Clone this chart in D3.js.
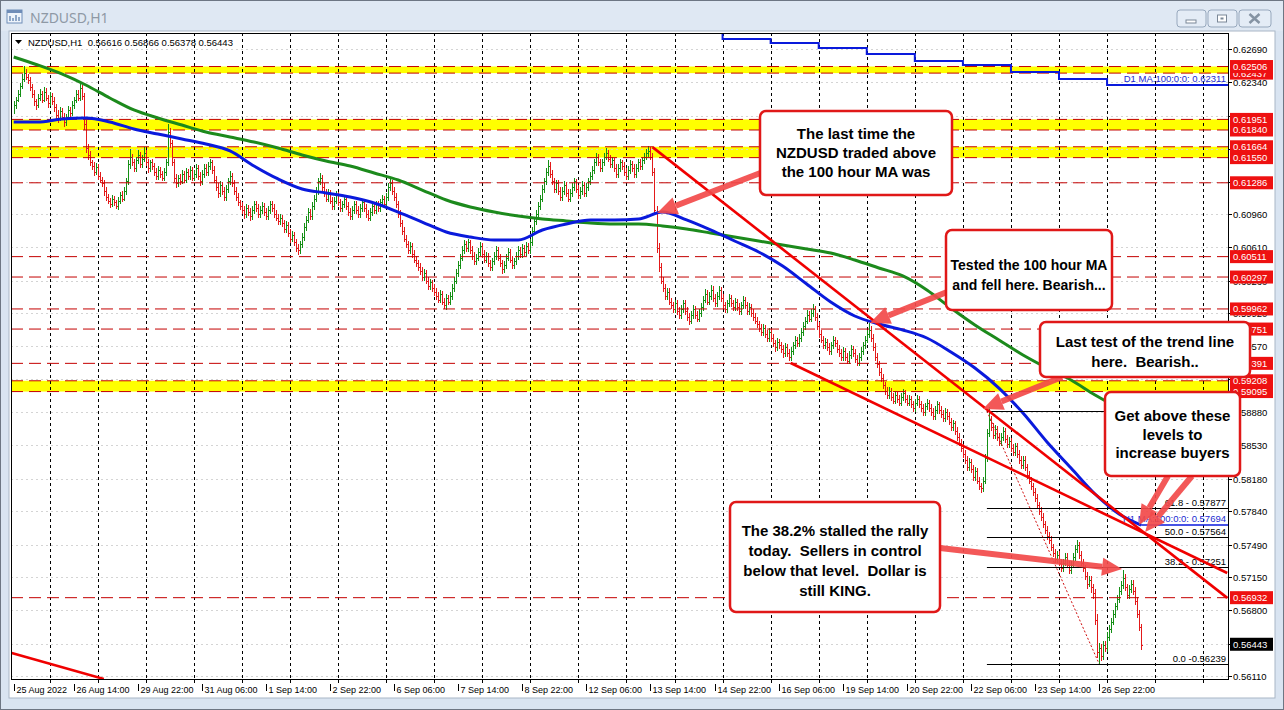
<!DOCTYPE html>
<html><head><meta charset="utf-8">
<script src="https://cdn.jsdelivr.net/npm/d3@7"></script>
<style>
html,body{margin:0;padding:0;background:#d9e4f1;overflow:hidden}
svg{display:block}
</style></head><body>
<svg id="chart" width="1284" height="710"></svg>
<script>
// ---- NZDUSD H1 hourly bars, prices in pips (price * 10000) ----
const firstOpen = 6206;
const closes = [
6210,6216,6222,6230,6238,6244,6240,6236,6229,6222,6214,6210,6218,6222,6216,6224,6218,6212,6220,6214,6208,6200,6196,6204,
6198,6192,6198,6205,6202,6210,6216,6222,6218,6228,6220,6190,6165,6158,6150,6146,6140,6145,6136,6132,6128,6120,6114,6110,
6106,6112,6108,6104,6110,6116,6112,6120,6130,6148,6156,6150,6144,6152,6158,6148,6154,6160,6150,6144,6150,6146,6140,6136,
6142,6138,6134,6140,6150,6182,6170,6150,6134,6128,6134,6130,6138,6132,6140,6136,6142,6134,6138,6144,6136,6130,6138,6144,
6140,6146,6150,6142,6132,6124,6118,6126,6120,6114,6122,6130,6136,6128,6120,6114,6108,6104,6100,6096,6102,6098,6094,6100,
6106,6102,6096,6100,6104,6098,6094,6100,6106,6102,6096,6092,6088,6092,6086,6080,6084,6076,6070,6074,6066,6060,6058,6064,
6072,6082,6090,6098,6094,6104,6112,6120,6130,6134,6124,6118,6112,6118,6110,6104,6110,6116,6108,6102,6106,6112,6104,6098,
6094,6100,6106,6100,6096,6102,6108,6102,6096,6092,6098,6104,6100,6106,6102,6108,6112,6106,6114,6124,6128,6120,6114,6106,
6096,6086,6078,6070,6064,6058,6062,6054,6048,6044,6040,6036,6030,6034,6026,6020,6024,6018,6014,6010,6006,6012,6004,6000,
6008,6004,6010,6018,6026,6034,6042,6050,6058,6064,6060,6066,6058,6052,6046,6050,6056,6062,6054,6048,6052,6044,6040,6046,
6052,6058,6050,6044,6038,6042,6050,6056,6048,6042,6046,6052,6058,6054,6060,6056,6062,6058,6066,6078,6088,6096,6104,6112,
6122,6130,6140,6146,6138,6130,6122,6128,6120,6114,6120,6126,6118,6112,6118,6124,6130,6122,6116,6120,6126,6118,6124,6130,
6136,6142,6150,6156,6150,6144,6150,6156,6160,6154,6148,6152,6144,6138,6144,6150,6146,6140,6136,6142,6148,6144,6138,6144,
6150,6146,6152,6156,6160,6162,6156,6140,6100,6060,6040,6026,6018,6010,6014,6004,6000,5996,6002,5994,5990,5996,6002,5994,
5988,5984,5990,5996,5990,5986,5992,5998,6006,6012,6004,6010,6016,6008,6002,6010,6016,6008,6000,5996,6002,6008,6002,5998,
6004,5998,5994,6000,6006,6000,5994,5998,5992,5988,5984,5980,5976,5972,5976,5970,5966,5972,5966,5960,5956,5962,5958,5954,
5950,5956,5950,5946,5952,5958,5964,5960,5966,5972,5978,5984,5990,5986,5992,5996,5988,5978,5970,5964,5958,5962,5956,5952,
5958,5964,5960,5954,5950,5946,5952,5946,5942,5948,5954,5950,5944,5940,5946,5952,5958,5964,5970,5974,5966,5956,5946,5938,
5930,5924,5916,5910,5906,5910,5904,5900,5906,5902,5898,5904,5908,5902,5898,5902,5896,5892,5898,5902,5896,5892,5888,5894,
5898,5892,5888,5884,5890,5896,5890,5886,5882,5888,5884,5878,5872,5876,5868,5862,5856,5850,5844,5838,5830,5836,5828,5820,
5826,5816,5810,5808,5816,5840,5866,5880,5872,5864,5870,5862,5856,5862,5868,5860,5854,5858,5850,5846,5852,5844,5838,5832,
5838,5830,5822,5816,5810,5804,5798,5790,5784,5778,5770,5764,5758,5754,5746,5740,5734,5738,5730,5724,5730,5736,5728,5722,
5728,5736,5744,5748,5738,5730,5724,5716,5708,5712,5704,5698,5670,5636,5640,5632,5644,5640,5652,5660,5668,5676,5684,5692,
5700,5706,5714,5704,5696,5702,5708,5700,5690,5676,5662,5644
];
const highs = [
6214,6219,6226,6233,6243,6251,6248,6243,6240,6232,6226,6217,6222,6227,6225,6229,6228,6221,6224,6223,6219,6211,6205,6208,
6207,6202,6201,6209,6208,6214,6219,6226,6226,6234,6231,6223,6195,6169,6162,6153,6150,6149,6148,6140,6135,6132,6124,6117,
6113,6116,6115,6111,6114,6119,6120,6124,6134,6152,6164,6159,6154,6156,6163,6161,6158,6166,6163,6154,6153,6154,6149,6144,
6146,6145,6141,6144,6154,6190,6186,6174,6154,6138,6137,6138,6142,6141,6144,6143,6146,6145,6142,6148,6147,6140,6142,6148,
6148,6150,6154,6153,6146,6136,6128,6130,6129,6124,6126,6134,6141,6139,6132,6124,6118,6111,6108,6104,6106,6105,6102,6104,
6110,6109,6106,6104,6108,6107,6102,6104,6110,6109,6106,6100,6096,6096,6095,6090,6088,6087,6080,6078,6077,6070,6064,6068,
6076,6086,6094,6102,6101,6108,6116,6124,6134,6139,6137,6128,6122,6122,6121,6114,6114,6120,6119,6112,6110,6116,6115,6108,
6102,6104,6110,6109,6104,6106,6112,6111,6106,6100,6102,6108,6107,6110,6109,6112,6116,6115,6118,6128,6133,6131,6124,6118,
6110,6100,6090,6082,6074,6068,6066,6065,6058,6052,6048,6044,6040,6038,6037,6030,6028,6027,6022,6018,6014,6016,6015,6008,
6012,6011,6014,6022,6030,6038,6046,6054,6062,6069,6068,6070,6069,6062,6056,6054,6060,6066,6065,6058,6056,6055,6048,6050,
6056,6062,6061,6054,6048,6046,6054,6060,6059,6052,6050,6056,6062,6061,6064,6063,6066,6065,6070,6082,6092,6100,6108,6116,
6126,6134,6144,6152,6150,6142,6134,6132,6131,6124,6124,6130,6129,6122,6122,6128,6134,6133,6126,6124,6130,6129,6128,6134,
6140,6146,6154,6160,6159,6154,6154,6160,6165,6163,6158,6156,6155,6148,6148,6154,6153,6150,6144,6146,6152,6151,6148,6148,
6154,6154,6156,6160,6164,6167,6166,6160,6144,6104,6065,6044,6030,6022,6018,6018,6008,6004,6006,6006,5998,6000,6006,6006,
5998,5992,5994,6000,5999,5994,5996,6002,6010,6017,6016,6014,6021,6020,6012,6014,6020,6019,6012,6004,6006,6012,6011,6006,
6008,6007,6002,6004,6010,6009,6004,6002,6001,5996,5992,5988,5984,5980,5980,5979,5974,5976,5975,5970,5964,5966,5965,5962,
5958,5960,5959,5954,5956,5962,5968,5967,5970,5976,5982,5988,5995,5994,5996,6001,5999,5992,5982,5974,5968,5966,5965,5960,
5962,5968,5967,5964,5958,5954,5956,5955,5950,5952,5958,5957,5954,5948,5950,5956,5962,5968,5974,5981,5978,5970,5960,5950,
5942,5934,5928,5920,5914,5914,5913,5908,5910,5909,5906,5908,5912,5911,5906,5906,5905,5900,5902,5906,5905,5900,5896,5898,
5902,5901,5896,5892,5894,5900,5899,5894,5890,5892,5891,5888,5882,5880,5879,5872,5866,5860,5854,5848,5842,5840,5839,5832,
5830,5829,5820,5814,5820,5844,5870,5893,5884,5876,5874,5873,5866,5866,5872,5871,5864,5862,5861,5854,5856,5855,5848,5842,
5842,5842,5834,5826,5820,5814,5808,5802,5794,5788,5782,5774,5768,5762,5758,5750,5744,5742,5742,5734,5734,5740,5740,5732,
5732,5740,5749,5754,5752,5742,5734,5728,5720,5716,5716,5708,5702,5676,5646,5645,5648,5648,5657,5664,5672,5680,5688,5696,
5704,5711,5722,5718,5708,5706,5712,5712,5704,5694,5680,5666
];
const lows = [
6201,6206,6213,6219,6227,6234,6236,6232,6225,6218,6209,6205,6207,6214,6212,6213,6214,6207,6209,6210,6203,6196,6191,6193,
6194,6187,6188,6194,6198,6199,6206,6212,6214,6214,6216,6184,6160,6153,6146,6142,6136,6137,6131,6128,6124,6115,6110,6106,
6102,6103,6104,6101,6100,6106,6108,6109,6116,6126,6143,6146,6140,6140,6148,6144,6144,6150,6146,6139,6140,6142,6136,6132,
6132,6134,6130,6130,6136,6146,6165,6146,6129,6123,6124,6126,6127,6128,6128,6132,6132,6130,6130,6134,6132,6125,6126,6134,
6136,6136,6142,6138,6128,6120,6113,6114,6116,6110,6110,6118,6126,6124,6116,6110,6104,6100,6096,6091,6092,6094,6089,6090,
6096,6098,6092,6092,6096,6094,6090,6090,6096,6098,6092,6088,6084,6084,6082,6076,6076,6072,6065,6066,6062,6056,6053,6054,
6060,6068,6078,6086,6090,6090,6100,6108,6116,6126,6120,6114,6108,6108,6106,6100,6100,6106,6104,6098,6098,6102,6100,6094,
6090,6090,6096,6096,6092,6092,6098,6098,6092,6088,6088,6094,6096,6096,6098,6098,6104,6102,6102,6110,6120,6116,6110,6102,
6092,6082,6074,6066,6060,6054,6054,6050,6044,6040,6036,6032,6026,6026,6022,6016,6016,6014,6010,6006,6002,6002,6000,5996,
5995,6000,6000,6006,6014,6022,6030,6038,6046,6054,6056,6056,6054,6048,6042,6042,6046,6052,6050,6044,6044,6040,6036,6036,
6042,6048,6046,6040,6033,6034,6038,6046,6044,6038,6038,6042,6048,6050,6050,6052,6052,6054,6054,6062,6074,6084,6092,6100,
6108,6118,6126,6136,6134,6126,6118,6118,6116,6110,6110,6116,6114,6108,6108,6114,6120,6118,6112,6112,6116,6114,6114,6120,
6126,6132,6138,6146,6146,6140,6140,6146,6152,6150,6144,6144,6140,6134,6134,6140,6142,6136,6132,6132,6138,6140,6134,6134,
6140,6142,6142,6148,6152,6156,6152,6136,6096,6055,6035,6022,6014,6006,6006,6000,5996,5992,5992,5990,5986,5986,5992,5990,
5984,5979,5980,5986,5986,5982,5982,5988,5994,6002,6000,6000,6006,6004,5998,5998,6006,6004,5996,5992,5992,5998,5998,5994,
5994,5994,5990,5990,5996,5996,5990,5990,5988,5984,5980,5976,5972,5968,5968,5966,5962,5962,5962,5956,5951,5952,5954,5950,
5945,5946,5946,5942,5942,5948,5954,5956,5956,5962,5968,5974,5980,5982,5982,5988,5984,5974,5966,5960,5954,5954,5952,5948,
5948,5954,5956,5950,5946,5942,5942,5942,5938,5938,5944,5946,5940,5936,5936,5942,5948,5954,5960,5966,5962,5952,5942,5934,
5926,5920,5912,5906,5902,5902,5900,5896,5896,5898,5894,5894,5900,5898,5894,5894,5892,5888,5888,5894,5892,5888,5884,5884,
5890,5888,5884,5880,5880,5886,5886,5882,5878,5878,5880,5874,5868,5868,5864,5858,5852,5846,5840,5834,5826,5826,5824,5816,
5816,5812,5806,5803,5804,5812,5836,5862,5868,5860,5860,5858,5852,5852,5858,5856,5850,5850,5846,5842,5842,5840,5834,5828,
5828,5826,5818,5812,5806,5800,5794,5786,5780,5774,5766,5760,5754,5750,5742,5736,5730,5730,5726,5720,5720,5726,5724,5718,
5718,5724,5732,5740,5734,5726,5720,5712,5702,5704,5698,5692,5664,5630,5624,5627,5628,5636,5636,5648,5656,5664,5672,5680,
5688,5696,5702,5700,5692,5692,5698,5696,5686,5672,5658,5638
];

// Moving averages, sampled every 12 bars (last point = last bar)
const maBars = [0,12,24,36,48,60,72,84,96,108,120,132,144,156,168,180,192,204,216,228,240,252,264,276,288,300,312,324,336,348,360,372,384,396,408,420,432,444,456,468,480,492,504,516,528,540,552,563];
const ma100 = [0.61924,0.61924,0.61955,0.61966,0.61924,0.61850,0.61798,0.61746,0.61693,0.61620,0.61462,0.61326,0.61221,0.61179,0.61137,0.61074,0.60979,0.60874,0.60770,0.60717,0.60686,0.60686,0.60791,0.60854,0.60896,0.60896,0.60906,0.60979,0.60896,0.60791,0.60675,0.60560,0.60413,0.60224,0.60035,0.59888,0.59804,0.59741,0.59657,0.59510,0.59342,0.59132,0.58870,0.58566,0.58293,0.58020,0.57810,0.57694];
const ma200 = [0.62606,0.62522,0.62428,0.62312,0.62176,0.62050,0.61966,0.61892,0.61819,0.61767,0.61714,0.61651,0.61578,0.61515,0.61462,0.61389,0.61315,0.61210,0.61105,0.61032,0.60979,0.60937,0.60906,0.60885,0.60864,0.60854,0.60854,0.60833,0.60801,0.60759,0.60717,0.60675,0.60633,0.60591,0.60549,0.60476,0.60392,0.60308,0.60161,0.59972,0.59794,0.59636,0.59479,0.59342,0.59216,0.59059,0.58923,0.58839];

// Daily 100 MA, one value per trading day (day starts at these bars)
const d1Bars = [330,354,378,402,426,450,474,498,522,546];
const d1Ma   = [0.62880,0.62795,0.62753,0.62700,0.62638,0.62564,0.62522,0.62449,0.62375,0.62311];

// Horizontal levels and zones
const levelPrices = [0.62506,0.62437,0.61951,0.61840,0.61664,0.61550,0.61286,0.60511,0.60297,0.59962,0.59751,0.59391,0.59208,0.59095,0.56932];
const zoneHi = [0.62506,0.61951,0.61664,0.59208];
const zoneLo = [0.62437,0.61840,0.61550,0.59095];

// Price axis tick labels (those not covered by level tags)
const priceTicks = [0.62690,0.62340,0.61990,0.60960,0.60610,0.60260,0.59920,0.59570,0.58880,0.58530,0.58180,0.57840,0.57490,0.57150,0.56800,0.56110];
const priceTickText = ["0.62690","0.62340","0.61990","0.60960","0.60610","0.60260","0.59920","0.59570","0.58880","0.58530","0.58180","0.57840","0.57490","0.57150","0.56800","0.56110"];
const gridPrices = [0.62690,0.62340,0.61990,0.61640,0.61290,0.60960,0.60610,0.60260,0.59920,0.59570,0.59230,0.58880,0.58530,0.58180,0.57840,0.57490,0.57150,0.56800,0.56450,0.56110];

// Time axis labels: first bar, then one every 32 bars starting at bar 30
const firstDateLabel = "25 Aug 2022";
const dateLabels = ["26 Aug 14:00","29 Aug 22:00","31 Aug 06:00","1 Sep 14:00","2 Sep 22:00","6 Sep 06:00","7 Sep 14:00","8 Sep 22:00","12 Sep 06:00","13 Sep 14:00","14 Sep 22:00","16 Sep 06:00","19 Sep 14:00","20 Sep 22:00","22 Sep 06:00","23 Sep 14:00","26 Sep 22:00"];

// Fibonacci retracement from swing high to swing low
const fibHigh = {bar: 486, price: 0.58889};
const fibLow  = {bar: 542, price: 0.56239};
const fibRatios = [1.0, 0.618, 0.5, 0.382, 0.0];
const fibNames  = ["100.0 - 0.58889","61.8 - 0.57877","50.0 - 0.57564","38.2 - 0.57251","0.0 -0.56239"];

// Trend lines (bar, price) pairs
const trendLines = [
  [[319,0.61660],[606,0.56930]],
  [[388,0.59395],[606,0.57191]],
  [[-1,0.56352],[45,0.56079]]
];

const lastPrice = 0.56443;

// ---------------- drawing ----------------
const svg = d3.select("#chart");
const P = {left: 11, top: 33, right: 1228, bottom: 679};
const barStep = 2.0025, x0 = 13.7;
const nBars = Math.min(closes.length, highs.length, lows.length);
const x = d3.scaleLinear().domain([0, 1]).range([x0, x0 + barStep]);
const y = d3.scaleLinear().domain([0.56110, 0.62690]).range([676, 49]);
const pip = v => v / 10000;
const FONT = "'Liberation Sans', Arial, sans-serif";

// window frame
svg.append("rect").attr("width",1284).attr("height",710).attr("fill","#d9e4f1");
svg.append("rect").attr("x",0).attr("y",0).attr("width",1284).attr("height",31).attr("fill","#dfe8f3");
svg.append("rect").attr("x",0.5).attr("y",0.5).attr("width",1283).attr("height",709).attr("fill","none").attr("stroke","#6d7683");
// title icon + text
const ic = svg.append("g").attr("transform","translate(7,10)");
ic.append("rect").attr("width",15).attr("height",13).attr("fill","#eef4fb").attr("stroke","#6f8db8");
ic.append("rect").attr("width",15).attr("height",3).attr("fill","#6f8db8");
ic.append("path").attr("d","M3,11 L3,6 M6,11 L6,8 M9,11 L9,5 M12,11 L12,7").attr("stroke","#6f8db8").attr("stroke-width",1.5);
svg.append("text").attr("x",30).attr("y",23).text("NZDUSD,H1")
  .attr("font-family","'Noto Sans', 'Open Sans', sans-serif").attr("font-size",14).attr("fill","#8e99a5");
// window buttons
const btns = [[1177,30,"min"],[1208,30,"max"],[1239,33,"close"]];
btns.forEach(([bx,bw,kind]) => {
  const g = svg.append("g").attr("transform",`translate(${bx},10)`);
  g.append("rect").attr("width",bw-1).attr("height",17).attr("rx",3).attr("fill","#e4ecf6").attr("stroke","#97a8bd");
  if (kind==="min") g.append("rect").attr("x",bw/2-6).attr("y",10).attr("width",10).attr("height",3).attr("fill","#fff").attr("stroke","#7a8797");
  if (kind==="max") { g.append("rect").attr("x",bw/2-5.5).attr("y",5).attr("width",9).attr("height",7).attr("fill","#fff").attr("stroke","#7a8797");
                      g.append("rect").attr("x",bw/2-2.5).attr("y",7.5).attr("width",3).attr("height",2).attr("fill","#7a8797"); }
  if (kind==="close") g.append("path").attr("d",`M${bw/2-6},4 L${bw/2+4},13 M${bw/2+4},4 L${bw/2-6},13`).attr("stroke","#8593a3").attr("stroke-width",2.5);
});

// chart panel
svg.append("rect").attr("x",9).attr("y",31).attr("width",1266).attr("height",667).attr("fill","#fff").attr("stroke","#a9b6c6");

const clipId = "plotclip";
svg.append("clipPath").attr("id",clipId).append("rect")
  .attr("x",P.left).attr("y",P.top).attr("width",P.right-P.left).attr("height",P.bottom-P.top);
const plot = svg.append("g").attr("clip-path",`url(#${clipId})`);

// zones
plot.selectAll("rect.zone").data(zoneHi).join("rect").attr("class","zone")
  .attr("x",P.left).attr("width",P.right-P.left)
  .attr("y",(d)=>y(d)).attr("height",(d,i)=>y(zoneLo[i])-y(d)).attr("fill","#ffff00");

// light grid at price ticks
plot.selectAll("line.hgrid").data(gridPrices).join("line").attr("class","hgrid")
  .attr("x1",P.left).attr("x2",P.right).attr("y1",d=>Math.round(y(d))+0.5).attr("y2",d=>Math.round(y(d))+0.5)
  .attr("stroke","#d4d4d4").attr("stroke-dasharray","2,3");

// vertical dotted separators every 24 bars
const sepBars = d3.range(18, 620, 24);
plot.selectAll("line.sep").data(sepBars).join("line").attr("class","sep")
  .attr("x1",d=>Math.round(x(d))+0.5).attr("x2",d=>Math.round(x(d))+0.5)
  .attr("y1",P.top).attr("y2",P.bottom).attr("stroke","#000").attr("stroke-dasharray","3,3");

// bars
const barData = d3.range(nBars).map(i => ({
  i, o: i ? pip(closes[i-1]) : pip(firstOpen), h: pip(highs[i]), l: pip(lows[i]), c: pip(closes[i])
}));
plot.append("g").attr("shape-rendering","crispEdges").selectAll("path").data(barData).join("path")
  .attr("d", d => {
    const bx = Math.round(x(d.i)) + 0.5;
    return `M${bx},${y(d.h)}V${y(d.l)}M${bx-1},${Math.round(y(d.o))+0.5}H${bx}M${bx},${Math.round(y(d.c))+0.5}H${bx+1}`;
  })
  .attr("fill","none").attr("stroke", d => d.c >= d.o ? "#158f15" : "#e31a1a").attr("stroke-width",1);

// levels
plot.selectAll("line.level").data(levelPrices).join("line").attr("class","level")
  .attr("x1",P.left).attr("x2",P.right).attr("y1",d=>y(d)).attr("y2",d=>y(d))
  .attr("stroke","#c40000").attr("stroke-width",1).attr("stroke-dasharray","12,6");

// moving averages
const maLine = d3.line().x((d,i)=>x(maBars[i])).y(d=>y(d)).curve(d3.curveMonotoneX);
plot.append("path").attr("d",maLine(ma200)).attr("fill","none").attr("stroke","#1c8a1c").attr("stroke-width",3);
plot.append("path").attr("d",maLine(ma100)).attr("fill","none").attr("stroke","#0a1adc").attr("stroke-width",3);

// daily MA steps, extended to the right edge
const d1Pts = d1Bars.map((b,i)=>[x(b), y(d1Ma[i])]);
d1Pts.push([P.right, y(d1Ma[d1Ma.length-1])]);
plot.append("path").attr("d",d3.line().curve(d3.curveStepAfter)(d1Pts)).attr("fill","none").attr("stroke","#0a1adc").attr("stroke-width",2);
plot.append("text").attr("x",P.right-2).attr("y",y(d1Ma[d1Ma.length-1])-3).attr("text-anchor","end")
  .attr("font-family",FONT).attr("font-size",9.5).attr("fill","#1a2ad0").text("D1 MA:100:0:0: " + d1Ma[d1Ma.length-1].toFixed(5));

// hourly MA value line
const maLast = ma100[ma100.length-1];
plot.append("line").attr("x1",x(maBars[maBars.length-1])).attr("x2",P.right).attr("y1",y(maLast)).attr("y2",y(maLast)).attr("stroke","#0a1adc").attr("stroke-width",1.5);
plot.append("text").attr("x",P.right-2).attr("y",y(maLast)-3).attr("text-anchor","end")
  .attr("font-family",FONT).attr("font-size",9.5).attr("fill","#1a2ad0").text("H1 MA:100:0:0: " + maLast.toFixed(5));

// fibonacci
const fibRange = fibHigh.price - fibLow.price;
const fibLevels = fibRatios.map(r => fibLow.price + r*fibRange);
plot.selectAll("line.fib").data(fibLevels).join("line").attr("class","fib")
  .attr("x1",x(fibHigh.bar)).attr("x2",P.right).attr("y1",d=>Math.round(y(d))+0.5).attr("y2",d=>Math.round(y(d))+0.5)
  .attr("stroke","#000").attr("stroke-width",1);
plot.selectAll("text.fib").data(fibLevels).join("text").attr("class","fib")
  .attr("x",P.right-2).attr("y",d=>Math.round(y(d))-2).attr("text-anchor","end")
  .attr("font-family",FONT).attr("font-size",9.5).attr("fill","#000").text((d,i)=>fibNames[i]);
plot.append("line").attr("x1",x(fibHigh.bar)).attr("y1",y(fibHigh.price)).attr("x2",x(fibLow.bar)).attr("y2",y(fibLow.price))
  .attr("stroke","#d01010").attr("stroke-dasharray","2,2").attr("stroke-width",1);

// trend lines, extended through the plot
trendLines.forEach(([a,b]) => {
  plot.append("line").attr("x1",x(a[0])).attr("y1",y(a[1])).attr("x2",x(b[0])).attr("y2",y(b[1]))
    .attr("stroke","#f00000").attr("stroke-width",2.6);
});

// plot frame
svg.append("path").attr("d",`M${P.left+0.5},${P.bottom+0.5}V${P.top+0.5}H${P.right+0.5}V${P.bottom+0.5}H${P.left+0.5}`)
  .attr("fill","none").attr("stroke","#000").attr("shape-rendering","crispEdges");

// header text
svg.append("path").attr("d","M15,40 L22,40 L18.5,44 Z").attr("fill","#000");
svg.append("text").attr("x",28).attr("y",46).attr("font-family",FONT).attr("font-size",9.5).attr("fill","#000")
  .attr("xml:space","preserve").text("NZDUSD,H1  0.56616 0.56866 0.56378 0.56443");

// price axis
const axisG = svg.append("g");
gridPrices.forEach(p => {
  const py = Math.round(y(p))+0.5;
  axisG.append("line").attr("x1",P.right).attr("x2",P.right+4).attr("y1",py).attr("y2",py).attr("stroke","#000");
});
priceTicks.forEach((p,i) => {
  const py = Math.round(y(p))+0.5;
  axisG.append("text").attr("x",P.right+5).attr("y",py+3.5).attr("font-family",FONT).attr("font-size",9.5).attr("fill","#000").text(priceTickText[i]);
});
// level labels (ascending so higher prices sit on top)
levelPrices.slice().sort((a,b)=>a-b).forEach(p => {
  const py = y(p);
  axisG.append("rect").attr("x",P.right+2).attr("y",py-6.5).attr("width",43).attr("height",13).attr("fill","#ee1111");
  axisG.append("text").attr("x",P.right+5).attr("y",py+3.5).attr("font-family",FONT).attr("font-size",9.5).attr("fill","#fff").text(p.toFixed(5));
});
axisG.append("rect").attr("x",P.right+2).attr("y",y(lastPrice)-6.5).attr("width",43).attr("height",13).attr("fill","#000");
axisG.append("text").attr("x",P.right+5).attr("y",y(lastPrice)+3.5).attr("font-family",FONT).attr("font-size",9.5).attr("fill","#fff").text(lastPrice.toFixed(5));

// time axis
const tAxis = svg.append("g");
sepBars.filter(b => x(b) < P.right).forEach(b => {
  tAxis.append("line").attr("x1",Math.round(x(b))+0.5).attr("x2",Math.round(x(b))+0.5).attr("y1",P.bottom).attr("y2",P.bottom+4).attr("stroke","#000");
});
const dateTicks = [{bar:0, text:firstDateLabel}].concat(dateLabels.map((t,k)=>({bar:30+32*k, text:t})));
dateTicks.forEach(d => {
  const tx = Math.round(x(d.bar))+0.5;
  tAxis.append("line").attr("x1",tx).attr("x2",tx).attr("y1",P.bottom+5).attr("y2",P.bottom+12).attr("stroke","#000");
  tAxis.append("text").attr("x",tx+2).attr("y",P.bottom+14).attr("font-family",FONT).attr("font-size",9).attr("fill","#000").text(d.text);
});

// ---- annotations ----
const ann = svg.append("g");
function arrow(x1,y1,x2,y2){
  const a = Math.atan2(y2-y1,x2-x1), L = 20, Wd = 9;
  const bx = x2 - L*Math.cos(a), by = y2 - L*Math.sin(a);
  ann.append("line").attr("x1",x1).attr("y1",y1).attr("x2",bx).attr("y2",by)
    .attr("stroke","#f24a4a").attr("stroke-width",6).attr("opacity",0.92);
  ann.append("path").attr("d",`M${x2},${y2}L${bx+Wd*Math.sin(a)},${by-Wd*Math.cos(a)}L${bx-Wd*Math.sin(a)},${by+Wd*Math.cos(a)}Z`)
    .attr("fill","#f24a4a").attr("opacity",0.92);
}
function box(bx,by,bw,bh,lines,lineY,fs){
  ann.append("rect").attr("x",bx).attr("y",by).attr("width",bw).attr("height",bh).attr("rx",6)
    .attr("fill","#fff").attr("stroke","#e01818").attr("stroke-width",2.5);
  lines.forEach((t,k)=>ann.append("text").attr("x",bx+bw/2).attr("y",lineY[k]).attr("text-anchor","middle")
    .attr("font-family",FONT).attr("font-weight","bold").attr("font-size",fs||15).attr("fill","#000")
    .attr("xml:space","preserve").text(t));
}
// targets in data space (bar, price)
arrow(763,172, x(321.3), y(0.60969));
arrow(952,290, x(427.6), y(0.59815));
arrow(1062,377, x(484), y(0.58912));
arrow(1168,476, x(562), y(0.57695));
arrow(1192,476, x(565), y(0.57621));
arrow(940,548, x(553.5), y(0.57233));

box(760,111,192,84,["The last time the","NZDUSD traded above","the 100 hour MA was"],[139,158,177]);
box(946,230,166,80,["Tested the 100 hour MA","and fell here. Bearish..."],[270,290],14);
box(1040,322,210,55,["Last test of the trend line","here.  Bearish.."],[347,367]);
box(1105,392,135,84,["Get above these","levels to","increase buyers"],[421,440,458]);
box(730,502,210,110,["The 38.2% stalled the rally","today.  Sellers in control","below that level.  Dollar is","still KING."],[536,556,576,596]);
</script></body></html>
